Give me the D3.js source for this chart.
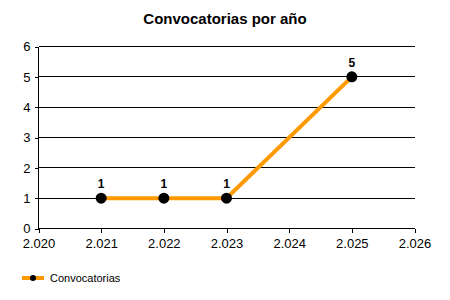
<!DOCTYPE html>
<style>
body { margin: 0; background: #fff; }
svg { font-family: "Liberation Sans", Arial, sans-serif; }
.grid line { stroke: #000; stroke-width: 1px; shape-rendering: crispEdges; }
</style>
<svg width="450" height="300"></svg>
<script src="https://d3js.org/d3.v7.min.js"></script>
<script>
var years = [2021, 2022, 2023, 2025];
var counts = [1, 1, 1, 5];
var xTicks = [2020, 2021, 2022, 2023, 2024, 2025, 2026];
var yTicks = [0, 1, 2, 3, 4, 5, 6];

var svg = d3.select('svg');
var x = d3.scaleLinear().domain([2020, 2026]).range([38.5, 414.5]);
var y = d3.scaleLinear().domain([0, 6]).range([228.5, 46.5]);

// years shown as 2.021 etc
var fmt = function(d){ return (d / 1000).toFixed(3); };

svg.append('text')
   .attr('x', 225).attr('y', 24)
   .attr('text-anchor', 'middle')
   .style('font-weight', 'bold').style('font-size', '15px')
   .text('Convocatorias por año');

// horizontal grid
svg.append('g').attr('class', 'grid')
   .selectAll('line').data(yTicks.slice(1)).enter().append('line')
   .attr('x1', x(2020)).attr('x2', x(2026))
   .attr('y1', function(d){ return y(d)}).attr('y2', function(d){ return y(d)});

var xAxis = svg.append('g')
   .attr('transform', 'translate(0,' + y(0) + ')')
   .call(d3.axisBottom(x).tickValues(xTicks).tickSize(4).tickPadding(6).tickSizeOuter(0).tickFormat(fmt));
var yAxis = svg.append('g')
   .attr('transform', 'translate(' + x(2020) + ',0)')
   .call(d3.axisLeft(y).tickValues(yTicks).tickSize(4).tickPadding(4).tickSizeOuter(0).tickFormat(d3.format('d')));

[xAxis, yAxis].forEach(function(a){
  a.selectAll('path, line').attr('stroke', '#000').style('shape-rendering', 'crispEdges');
  a.selectAll('text').attr('fill', '#000').style('font-size', '13px').style('font-family', '"Liberation Sans", Arial, sans-serif');
  a.select('.domain').remove();
});
svg.append('line').attr('x1', x(2020)).attr('x2', x(2026)).attr('y1', y(0)).attr('y2', y(0))
   .attr('stroke', '#000').style('shape-rendering', 'crispEdges');
svg.append('line').attr('x1', x(2020)).attr('x2', x(2020)).attr('y1', y(0)).attr('y2', y(6))
   .attr('stroke', '#000').style('shape-rendering', 'crispEdges');

var pts = years.map(function(d, i){ return [d, counts[i]]; });
svg.append('path')
   .attr('d', d3.line().x(function(d){ return x(d[0])}).y(function(d){ return y(d[1])})(pts))
   .attr('fill', 'none').attr('stroke', '#FF9900').attr('stroke-width', 4);

svg.selectAll('.pt').data(pts).enter().append('circle')
   .attr('class', 'pt').attr('r', 5.5)
   .attr('cx', function(d){ return x(d[0])}).attr('cy', function(d){ return y(d[1])})
   .attr('fill', '#000');

svg.selectAll('.lbl').data(pts).enter().append('text')
   .attr('class', 'lbl')
   .attr('x', function(d){ return x(d[0])}).attr('y', function(d){ return y(d[1]) - 10})
   .attr('text-anchor', 'middle')
   .style('font-weight', 'bold').style('font-size', '12px')
   .text(function(d){ return d[1]});

// legend
var lg = svg.append('g').attr('transform', 'translate(22,278)');
lg.append('line').attr('x1', 0).attr('x2', 22).attr('y1', 0).attr('y2', 0)
  .attr('stroke', '#FF9900').attr('stroke-width', 4);
lg.append('circle').attr('cx', 11).attr('cy', 0).attr('r', 3).attr('fill', '#000');
lg.append('text').attr('x', 28).attr('y', 4).style('font-size', '11px').text('Convocatorias');
</script>
